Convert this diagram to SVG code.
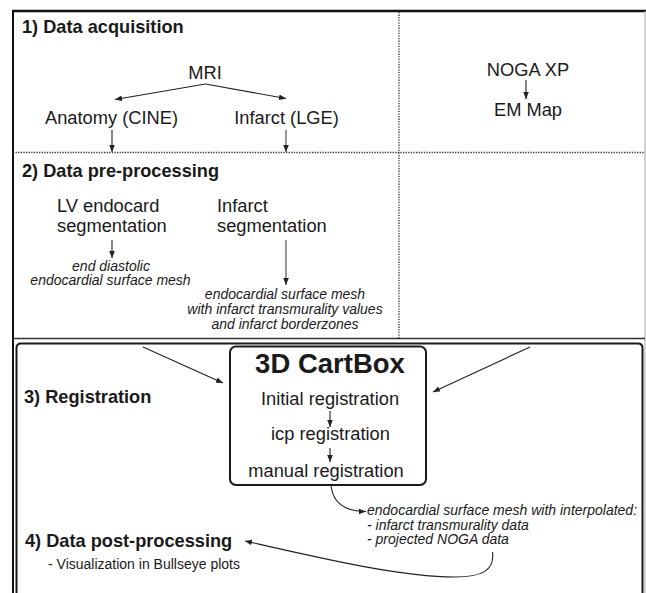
<svg xmlns="http://www.w3.org/2000/svg" width="646" height="593" viewBox="0 0 646 593">
  <style>
    text { font-family: "Liberation Sans", Arial, sans-serif; fill: #1a1a1a; }
    .h { font-weight: bold; font-size: 18.2px; }
    .t { font-size: 18.3px; }
    .n { font-size: 14px; font-style: italic; }
    .s { font-size: 14px; }
    .m { text-anchor: middle; }
    .arr { fill: none; stroke: #222; stroke-width: 1.1; marker-end: url(#ah); }
    .dot { fill: none; stroke: #333; stroke-width: 1.3; stroke-dasharray: 1.3 1.3; }
  </style>
  <defs>
    <marker id="ah" viewBox="0 0 10 10" refX="10" refY="5" markerWidth="7" markerHeight="7" orient="auto" markerUnits="userSpaceOnUse">
      <path d="M0,1 L10,5 L0,9 z" fill="#222"/>
    </marker>
  </defs>

  <rect width="646" height="593" fill="#fff"/>

  <!-- frame and section dividers -->
  <g id="frame">
    <line x1="12" y1="11" x2="646" y2="11" stroke="#111" stroke-width="2.4"/>
    <line x1="13" y1="10" x2="13" y2="593" stroke="#111" stroke-width="2"/>
    <line x1="645" y1="11" x2="645" y2="593" stroke="#aaa" stroke-width="1"/>
    <line x1="13" y1="338.5" x2="645" y2="338.5" stroke="#333" stroke-width="1.5"/>
    <line class="dot" x1="13" y1="152.5" x2="645" y2="152.5"/>
    <line class="dot" x1="399" y1="12" x2="399" y2="338"/>
    <path d="M16.5,593 L16.5,348 Q16.5,343.5 21,343.5 L638,343.5 Q642.5,343.5 642.5,348 L642.5,593" fill="none" stroke="#1a1a1a" stroke-width="2"/>
  </g>

  <!-- section titles -->
  <g id="titles">
    <text class="h" x="22" y="33">1) Data acquisition</text>
    <text class="h" x="22" y="176.5">2) Data pre-processing</text>
    <text class="h" x="24" y="402.5">3) Registration</text>
    <text class="h" x="25" y="546.5">4) Data post-processing</text>
  </g>

  <g id="mri"><text class="t m" x="205" y="79">MRI</text></g>
  <g id="anatomy"><text class="t m" x="111.5" y="124">Anatomy (CINE)</text></g>
  <g id="infarct-lge"><text class="t m" x="286.5" y="124">Infarct (LGE)</text></g>
  <g id="noga"><text class="t m" x="528" y="76">NOGA XP</text></g>
  <g id="em-map"><text class="t m" x="528" y="115.5">EM Map</text></g>

  <g id="lv-seg">
    <text class="t" x="57" y="211.5">LV endocard</text>
    <text class="t" x="57" y="231.5">segmentation</text>
  </g>
  <g id="infarct-seg">
    <text class="t" x="217" y="211.5">Infarct</text>
    <text class="t" x="217" y="231.5">segmentation</text>
  </g>
  <g id="lv-mesh">
    <text class="n m" x="111" y="270.5">end diastolic</text>
    <text class="n m" x="110.5" y="285">endocardial surface mesh</text>
  </g>
  <g id="infarct-mesh">
    <text class="n m" x="285" y="298.5">endocardial surface mesh</text>
    <text class="n m" x="285" y="313.5">with infarct transmurality values</text>
    <text class="n m" x="285" y="328.5">and infarct borderzones</text>
  </g>

  <g id="cartbox">
    <rect x="230" y="346.5" width="196" height="138.5" rx="6" fill="#fff" stroke="#1a1a1a" stroke-width="2"/>
    <text class="m" x="330" y="373" style="font-weight:bold;font-size:27.5px">3D CartBox</text>
    <text class="t m" x="330" y="405">Initial registration</text>
    <text class="t m" x="330.5" y="440">icp registration</text>
    <text class="t m" x="326" y="476.5">manual registration</text>
  </g>

  <g id="interp-mesh">
    <text class="n" x="367" y="515">endocardial surface mesh with interpolated:</text>
    <text class="n" x="367" y="529.5">- infarct transmurality data</text>
    <text class="n" x="367" y="544">- projected NOGA data</text>
  </g>

  <g id="postproc">
    <text class="s" x="48" y="569">- Visualization in Bullseye plots</text>
  </g>

  <!-- connectors -->
  <g id="connectors">
    <path class="arr" d="M205.5,84 L115,99.5"/>
    <path class="arr" d="M205.5,84 L286,98.5"/>
    <path class="arr" d="M112,130 L112,152"/>
    <path class="arr" d="M286,130 L286,152" style="stroke:#444"/>
    <path class="arr" d="M526,80 L526,99"/>
    <path class="arr" d="M112,240 L112,258"/>
    <path class="arr" d="M286,240 L286,285" style="stroke:#444"/>
    <path class="arr" d="M143,347 L223,383"/>
    <path class="arr" d="M530,347 L433,392"/>
    <path class="arr" d="M330,411 L330,427"/>
    <path class="arr" d="M330,448 L330,462"/>
    <path class="arr" d="M331,485.5 C333,503 345,511.5 366,511.5"/>
    <path class="arr" d="M492.5,552 C495,571 481,577 455,577 C400,577 320,558 245,541"/>
  </g>
</svg>
